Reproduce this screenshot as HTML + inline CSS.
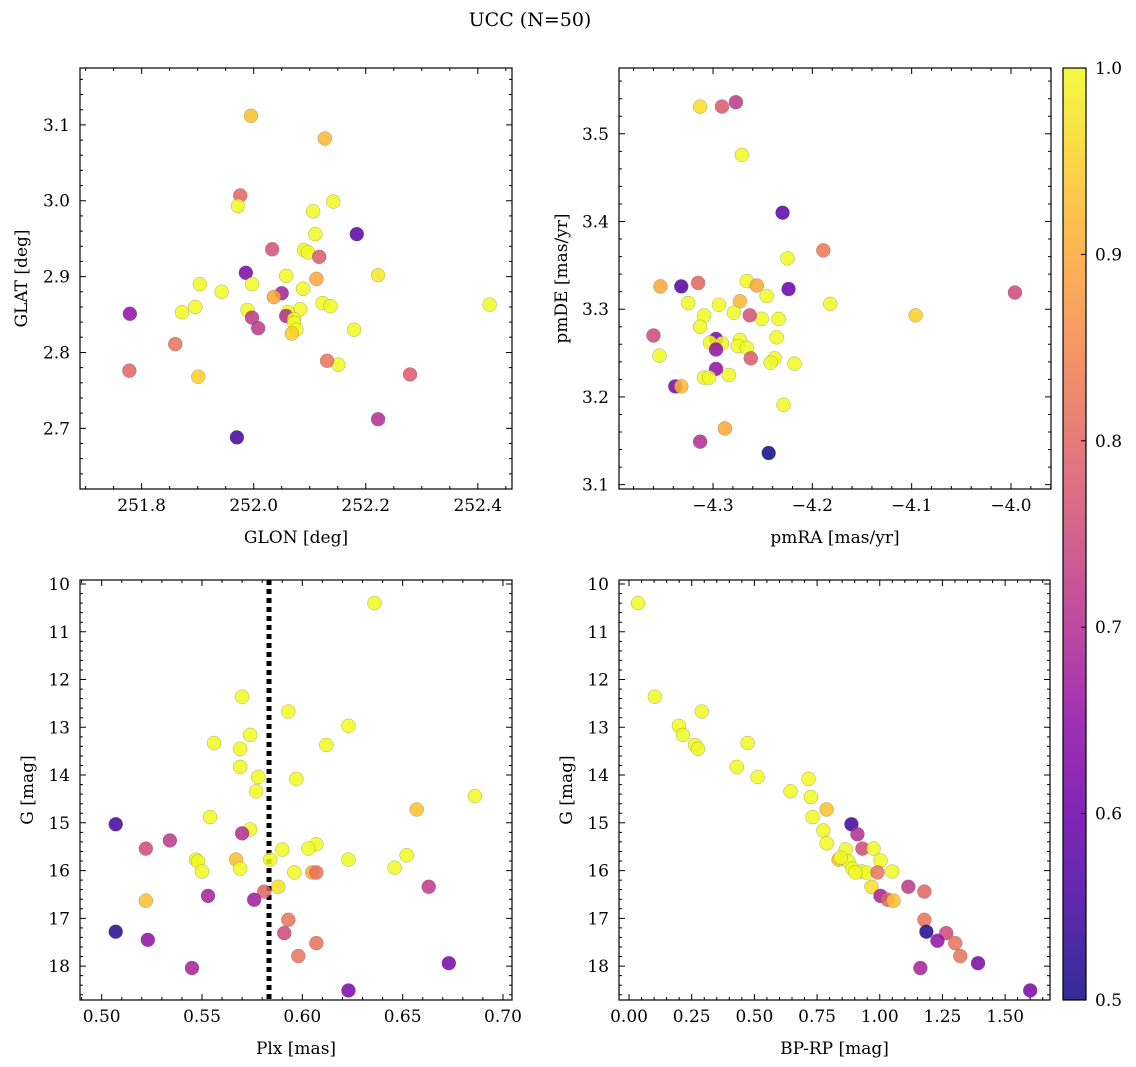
<!DOCTYPE html>
<html><head><meta charset="utf-8"><style>
html,body{margin:0;padding:0;background:#fff;}
svg{display:block;font-family:"DejaVu Serif","Liberation Serif",serif;}
</style></head><body>
<svg id="fig" width="1136" height="1067" viewBox="0 0 1136 1067">
<text x="530" y="26" font-size="19" text-anchor="middle">UCC (N=50)</text>
</svg>
<script>
// Panel 1: GLON / GLAT
const p1x=[251.995,252.127,251.976,251.972,252.142,252.106,252.184,252.110,252.033,252.090,252.097,252.117,251.986,252.222,252.058,252.112,251.904,251.997,252.088,251.943,252.050,252.036,252.421,252.123,252.137,251.896,251.989,252.083,252.061,251.872,251.779,252.058,251.997,252.072,252.072,252.008,252.076,252.068,252.179,251.860,252.151,252.131,251.778,251.901,252.279,252.222,251.970];
const p1y=[3.112,3.082,3.007,2.993,2.999,2.986,2.956,2.956,2.936,2.935,2.932,2.926,2.905,2.902,2.901,2.897,2.890,2.890,2.884,2.880,2.878,2.873,2.863,2.865,2.861,2.860,2.856,2.857,2.853,2.853,2.851,2.848,2.846,2.844,2.839,2.832,2.830,2.825,2.830,2.811,2.784,2.789,2.776,2.768,2.771,2.712,2.688];
const p1c=[0.93,0.92,0.8,1,1,1,0.58,1,0.76,1,1,0.78,0.62,0.98,1,0.9,1,1,1,1,0.68,0.9,1,1,1,1,1,1,1,1,0.65,0.7,0.72,1,1,0.72,1,0.95,1,0.82,1,0.82,0.8,0.95,0.78,0.7,0.55];
// Panel 2: pmRA / pmDE
const p2x=[-4.313,-4.291,-4.277,-4.271,-4.230,-4.189,-4.225,-4.266,-4.315,-4.353,-4.256,-4.332,-4.224,-3.996,-4.246,-4.273,-4.325,-4.294,-4.182,-4.096,-4.309,-4.279,-4.251,-4.263,-4.234,-4.313,-4.360,-4.236,-4.297,-4.273,-4.303,-4.291,-4.275,-4.297,-4.266,-4.354,-4.262,-4.238,-4.242,-4.218,-4.284,-4.297,-4.309,-4.304,-4.338,-4.332,-4.229,-4.288,-4.313,-4.244];
const p2y=[3.531,3.531,3.536,3.476,3.410,3.367,3.358,3.332,3.330,3.326,3.327,3.326,3.323,3.319,3.315,3.309,3.307,3.305,3.306,3.293,3.293,3.296,3.289,3.293,3.289,3.280,3.270,3.268,3.266,3.265,3.262,3.261,3.258,3.254,3.256,3.247,3.244,3.244,3.239,3.238,3.225,3.232,3.222,3.222,3.212,3.212,3.191,3.164,3.149,3.136];
const p2c=[0.97,0.78,0.72,1,0.58,0.83,1,1,0.8,0.9,0.9,0.57,0.6,0.75,1,0.92,1,1,1,0.95,1,1,1,0.76,1,1,0.75,1,0.62,1,1,1,1,0.65,1,1,0.78,1,1,1,1,0.65,1,1,0.62,0.92,1,0.9,0.7,0.5];
// Panel 3: Plx / G
const p3x=[0.636,0.570,0.593,0.623,0.574,0.556,0.612,0.569,0.569,0.578,0.597,0.577,0.686,0.657,0.554,0.507,0.574,0.570,0.534,0.607,0.522,0.590,0.603,0.652,0.547,0.567,0.623,0.548,0.584,0.569,0.646,0.550,0.596,0.605,0.607,0.663,0.588,0.553,0.581,0.576,0.522,0.593,0.591,0.507,0.523,0.607,0.598,0.673,0.545,0.623];
const p3y=[10.40,12.36,12.67,12.97,13.16,13.33,13.37,13.45,13.83,14.04,14.08,14.34,14.44,14.72,14.88,15.03,15.14,15.22,15.37,15.45,15.54,15.56,15.54,15.68,15.77,15.77,15.77,15.81,15.77,15.96,15.94,16.02,16.04,16.04,16.04,16.34,16.34,16.53,16.44,16.61,16.63,17.03,17.31,17.28,17.45,17.52,17.79,17.94,18.04,18.51];
const p3c=[1,1,1,1,1,1,1,1,1,1,1,1,1,0.93,1,0.55,1,0.7,0.72,1,0.75,1,1,1,1,0.93,1,1,1,1,1,1,1,0.9,0.82,0.72,0.97,0.68,0.8,0.67,0.93,0.82,0.75,0.52,0.65,0.82,0.82,0.62,0.68,0.62];
const plxLine=0.5834;
// Panel 4: BP-RP / G
const p4x=[0.036,0.103,0.199,0.215,0.263,0.275,0.290,0.473,0.430,0.513,0.644,0.716,0.725,0.788,0.732,0.775,0.887,0.911,0.788,0.864,0.931,0.975,0.836,0.875,1.003,0.844,0.891,0.927,0.947,0.903,0.991,1.050,0.967,1.114,1.178,1.003,1.031,1.055,1.178,1.186,1.265,1.230,1.301,1.321,1.392,1.162,1.600];
const p4y=[10.40,12.36,12.97,13.16,13.37,13.45,12.67,13.33,13.83,14.04,14.34,14.08,14.46,14.72,14.88,15.16,15.03,15.24,15.43,15.56,15.54,15.54,15.77,15.81,15.79,15.73,15.96,16.02,16.04,16.04,16.04,16.02,16.34,16.34,16.44,16.53,16.61,16.63,17.03,17.28,17.31,17.47,17.52,17.79,17.94,18.04,18.51];
const p4c=[1,1,1,1,1,1,1,1,1,1,1,1,1,0.93,1,1,0.55,0.7,1,1,0.75,1,0.93,1,1,1,1,1,1,1,0.82,1,0.97,0.72,0.8,0.68,0.8,0.93,0.82,0.52,0.75,0.65,0.82,0.82,0.62,0.68,0.62];
const cbTicks=[0.5,0.6,0.7,0.8,0.9,1.0];

const NS="http://www.w3.org/2000/svg";
const svg=document.getElementById('fig');
function mk(tag,attrs,parent){const e=document.createElementNS(NS,tag);for(const k in attrs)e.setAttribute(k,attrs[k]);(parent||svg).appendChild(e);return e;}
const stops=["#0d0887","#41049d","#6a00a8","#8f0da4","#b12a90","#cc4778","#e16462","#f2844b","#fca636","#fcce25","#f0f921"];
function hex(h){return [1,3,5].map(i=>parseInt(h.substr(i,2),16));}
function plasma(t){t=Math.max(0,Math.min(1,t));const s=t*10,i=Math.min(9,Math.floor(s)),f=s-i;const a=hex(stops[i]),b=hex(stops[i+1]);return 'rgb('+a.map((v,k)=>Math.round(v+(b[k]-v)*f)).join(',')+')';}
function cmap(p){return plasma((p-0.5)/0.5);}

function panel(o){
  const L=o.L,R=o.R,T=o.T,B=o.B;
  const sx=v=>L+(v-o.x0)/(o.x1-o.x0)*(R-L);
  const sy=v=>T+(v-o.y0)/(o.y1-o.y0)*(B-T);
  const g=mk('g',{});
  
  
  const clip=mk('clipPath',{id:'c'+o.name},g);mk('rect',{x:L,y:T,width:R-L,height:B-T},clip);
  const pts=mk('g',{'clip-path':'url(#c'+o.name+')'},g);
  if(o.vline!==undefined){const l=mk('line',{x1:sx(o.vline),x2:sx(o.vline),y1:T,y2:B,stroke:'#000','stroke-width':5,'stroke-dasharray':'5,4'},pts);
    
    }
  for(let i=0;i<Math.min(o.xs.length,o.ys.length);i++){
    const c=mk('circle',{cx:sx(o.xs[i]),cy:sy(o.ys[i]),r:7,fill:cmap(o.cs[i]),'fill-opacity':0.85,stroke:'#555','stroke-width':0.4,'stroke-opacity':0.6},pts);
    
    
  }
  mk('rect',{x:L,y:T,width:R-L,height:B-T,fill:'none',stroke:'#000','stroke-width':1.2},g);
  function ticks(a0,a1,step){const lo=Math.min(a0,a1),hi=Math.max(a0,a1);const out=[];for(let k=Math.ceil(lo/step-1e-6);k*step<=hi+1e-9;k++){out.push(k*step);}return out;}
  const tx=ticks(o.x0,o.x1,o.xm),txm=ticks(o.x0,o.x1,o.xn);
  const ty=ticks(o.y0,o.y1,o.ym),tym=ticks(o.y0,o.y1,o.yn);
  let d='';
  txm.forEach(v=>{const x=sx(v);d+=`M${x},${B}v-3M${x},${T}v3`;});
  tx.forEach(v=>{const x=sx(v);d+=`M${x},${B}v-6M${x},${T}v6`;});
  tym.forEach(v=>{const y=sy(v);d+=`M${L},${y}h3M${R},${y}h-3`;});
  ty.forEach(v=>{const y=sy(v);d+=`M${L},${y}h6M${R},${y}h-6`;});
  mk('path',{d:d,stroke:'#000','stroke-width':1,fill:'none'},g);
  tx.forEach(v=>{const t=mk('text',{x:sx(v),y:B+22,'font-size':17,'text-anchor':'middle'},g);t.textContent=v.toFixed(o.xd).replace('-','\u2212');
    
    });
  ty.forEach(v=>{const t=mk('text',{x:L-10,y:sy(v)+6,'font-size':17,'text-anchor':'end'},g);t.textContent=v.toFixed(o.yd);
    
    });
  const xt=mk('text',{x:(L+R)/2,y:B+54,'font-size':17,'text-anchor':'middle'},g);xt.textContent=o.xl;
  
  
  const yx=o.ylx, yy=(T+B)/2;
  const yt=mk('text',{x:yx,y:yy,'font-size':17,'text-anchor':'middle',transform:`rotate(-90 ${yx} ${yy})`},g);yt.textContent=o.yl;
  
  
}
panel({name:'glon-glat-panel',L:80,R:512,T:68,B:489,x0:251.690,x1:252.461,y0:3.175,y1:2.620,xm:0.2,xn:0.05,ym:0.1,yn:0.02,xd:1,yd:1,xs:p1x,ys:p1y,cs:p1c,xl:'GLON [deg]',yl:'GLAT [deg]',ylx:27});
panel({name:'pm-panel',L:619,R:1051,T:68,B:489,x0:-4.3947,x1:-3.9597,y0:3.575,y1:3.095,xm:0.1,xn:0.02,ym:0.1,yn:0.02,xd:1,yd:1,xs:p2x,ys:p2y,cs:p2c,xl:'pmRA [mas/yr]',yl:'pmDE [mas/yr]',ylx:567});
panel({name:'plx-g-panel',L:80,R:512,T:580,B:1000,x0:0.4892,x1:0.7045,y0:9.916,y1:18.71,xm:0.05,xn:0.01,ym:1,yn:0.2,xd:2,yd:0,xs:p3x,ys:p3y,cs:p3c,xl:'Plx [mas]',yl:'G [mag]',ylx:33,vline:plxLine});
panel({name:'cmd-panel',L:619,R:1050,T:580,B:1000,x0:-0.040,x1:1.679,y0:9.916,y1:18.71,xm:0.25,xn:0.05,ym:1,yn:0.2,xd:2,yd:0,xs:p4x,ys:p4y,cs:p4c,xl:'BP-RP [mag]',yl:'G [mag]',ylx:572});
// colorbar
(function(){
  const L=1063,R=1086,T=68,B=1000;
  const g=mk('g',{});
  
  
  const defs=mk('defs',{},g);const lg=mk('linearGradient',{id:'cbg',x1:0,y1:1,x2:0,y2:0},defs);
  for(let i=0;i<=20;i++)mk('stop',{offset:i/20,'stop-color':plasma(i/20)},lg);
  mk('rect',{x:L,y:T,width:R-L,height:B-T,fill:'url(#cbg)','fill-opacity':0.85},g);
  mk('rect',{x:L,y:T,width:R-L,height:B-T,fill:'none',stroke:'#000','stroke-width':1.2},g);
  cbTicks.forEach(v=>{const y=B-(v-0.5)/0.5*(B-T);mk('line',{x1:R,x2:R-5,y1:y,y2:y,stroke:'#000'},g);
    const t=mk('text',{x:R+9,y:y+6,'font-size':17},g);t.textContent=v.toFixed(1);
    
    });
})();
</script>
</body></html>
